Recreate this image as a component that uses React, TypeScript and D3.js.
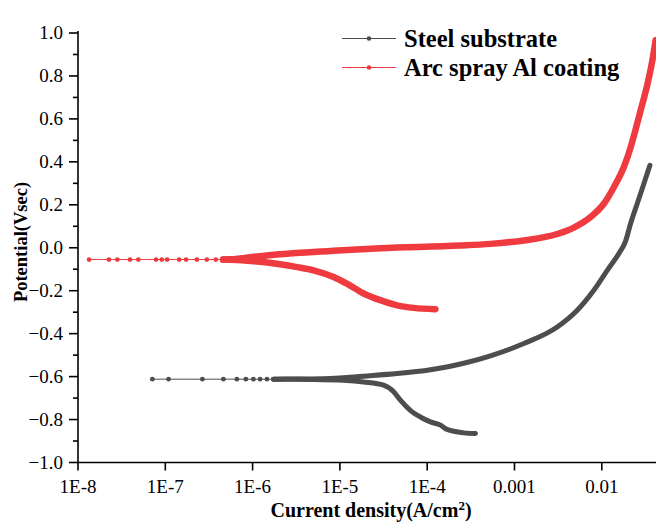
import React from 'react';
import * as d3 from 'd3';

// potentiodynamic polarization curves, current density (A/cm2) vs potential (V)
const seriesNames = ['Steel substrate', 'Arc spray Al coating'];
const seriesColors = ['#4d4d4d', '#ef3b3f'];

// steel substrate
const steelSparseI = [7.11e-8, 1.09e-7, 2.66e-7, 4.63e-7, 6.61e-7, 8.37e-7, 1.02e-6, 1.22e-6, 1.46e-6, 1.74e-6];
const steelSparseE = [-0.612, -0.612, -0.612, -0.612, -0.612, -0.612, -0.612, -0.612, -0.612, -0.612];
const steelAnodicI = [1.74e-6, 4e-6, 7.77e-6, 1.87e-5, 4.52e-5, 1.09e-4, 2.62e-4, 5.31e-4, 1.28e-3, 3.09e-3, 5.24e-3, 8.11e-3, 1.156e-2, 1.57e-2, 1.87e-2, 2.14e-2, 2.55e-2, 3.04e-2, 3.56e-2];
const steelAnodicE = [-0.612, -0.611, -0.609, -0.598, -0.586, -0.568, -0.538, -0.503, -0.446, -0.369, -0.291, -0.198, -0.105, -0.027, 0.03, 0.113, 0.206, 0.299, 0.384];
const steelCathodicI = [1.74e-6, 5e-6, 1.1e-5, 1.87e-5, 3.17e-5, 4.13e-5, 4.93e-5, 6.41e-5, 8.35e-5, 1.09e-4, 1.42e-4, 1.69e-4, 2.62e-4, 3.57e-4];
const steelCathodicE = [-0.612, -0.613, -0.617, -0.625, -0.64, -0.671, -0.71, -0.757, -0.788, -0.811, -0.826, -0.846, -0.862, -0.865];

// arc spray Al coating
const alSparseI = [1.34e-8, 2.26e-8, 2.82e-8, 3.94e-8, 4.91e-8, 7.83e-8, 9.1e-8, 1.05e-7, 1.44e-7, 1.73e-7, 2.3e-7, 2.99e-7, 3.79e-7, 4.6e-7];
const alSparseE = [-0.055, -0.055, -0.055, -0.055, -0.055, -0.055, -0.055, -0.055, -0.055, -0.055, -0.055, -0.055, -0.055, -0.055];
const alAnodicI = [4.6e-7, 5.5e-7, 1e-6, 2.07e-6, 7.77e-6, 2.9e-5, 2.4e-4, 5.31e-4, 1.28e-3, 3.09e-3, 4.79e-3, 7.45e-3, 1.06e-2, 1.38e-2, 1.79e-2, 2.15e-2, 2.4e-2, 2.79e-2, 3.33e-2, 3.79e-2, 4.14e-2];
const alAnodicE = [-0.055, -0.054, -0.043, -0.03, -0.015, -0.002, 0.01, 0.018, 0.034, 0.064, 0.094, 0.143, 0.206, 0.283, 0.376, 0.47, 0.54, 0.64, 0.76, 0.87, 0.966];
const alCathodicI = [4.6e-7, 8.6e-7, 1.39e-6, 2.07e-6, 3.24e-6, 4.99e-6, 8.47e-6, 1.2e-5, 1.87e-5, 2.9e-5, 4.52e-5, 7e-5, 1.24e-4];
const alCathodicE = [-0.055, -0.06, -0.068, -0.077, -0.09, -0.105, -0.136, -0.167, -0.213, -0.244, -0.268, -0.28, -0.286];

const xTickValues = [1e-8, 1e-7, 1e-6, 1e-5, 1e-4, 1e-3, 1e-2];
const xTickLabels = ['1E-8', '1E-7', '1E-6', '1E-5', '1E-4', '0.001', '0.01'];
const yTickValues = [-1.0, -0.8, -0.6, -0.4, -0.2, 0.0, 0.2, 0.4, 0.6, 0.8, 1.0];

const W = 656;
const H = 525;
const left = 78;
const right = 656;
const top = 33;
const bottom = 462.5;

const zip = (xs: number[], ys: number[]) => xs.map((x, i) => [x, ys[i]] as [number, number]);

const App = () => {
  const x = d3.scaleLog().domain([1e-8, 0.0418]).range([left, right]);
  const y = d3.scaleLinear().domain([-1, 1]).range([bottom, top]);
  const straight = d3
    .line<[number, number]>()
    .x(d => x(d[0]))
    .y(d => y(d[1]));
  const smooth = d3
    .line<[number, number]>()
    .x(d => x(d[0]))
    .y(d => y(d[1]))
    .curve(d3.curveMonotoneX);

  const series = [
    {
      sparse: zip(steelSparseI, steelSparseE),
      dense: [zip(steelAnodicI, steelAnodicE), zip(steelCathodicI, steelCathodicE)],
      width: 5
    },
    {
      sparse: zip(alSparseI, alSparseE),
      dense: [zip(alAnodicI, alAnodicE), zip(alCathodicI, alCathodicE)],
      width: 6.5
    }
  ];

  const minorTicks = d3.range(-0.9, 1.0, 0.2);
  const serif = '"Liberation Serif", "Times New Roman", serif';

  return (
    <svg width={W} height={H} style={{ position: 'absolute', left: 0, top: 0, background: '#fff' }}>
      {series.map((s, i) => (
        <g key={i}>
          <path d={straight(s.sparse) || ''} fill="none" stroke={seriesColors[i]} strokeWidth={1} />
          {s.sparse.map((d, j) => (
            <circle key={j} cx={x(d[0])} cy={y(d[1])} r={2.4} fill={seriesColors[i]} />
          ))}
          {s.dense.map((seg, j) => (
            <path
              key={'d' + j}
              d={smooth(seg) || ''}
              fill="none"
              stroke={seriesColors[i]}
              strokeWidth={s.width}
              strokeLinecap="round"
              strokeLinejoin="round"
            />
          ))}
        </g>
      ))}

      {/* axes */}
      <g stroke="#000" strokeWidth={1.6}>
        <line x1={left} x2={right} y1={bottom} y2={bottom} />
        <line x1={left} x2={left} y1={top - 2} y2={bottom} />
        {xTickValues.map(v => (
          <line key={v} x1={x(v)} x2={x(v)} y1={bottom} y2={bottom + 8} />
        ))}
        {yTickValues.map(v => (
          <line key={v} x1={left - 9} x2={left} y1={y(v)} y2={y(v)} />
        ))}
        {minorTicks.map(v => (
          <line key={'m' + v} x1={left - 5} x2={left} y1={y(v)} y2={y(v)} />
        ))}
      </g>
      <g fontFamily={serif} fontSize={19} fill="#000">
        {xTickValues.map((v, i) => (
          <text key={v} x={x(v)} y={bottom + 30} textAnchor="middle">
            {xTickLabels[i]}
          </text>
        ))}
        {yTickValues.map(v => (
          <text key={v} x={left - 15} y={y(v) + 6} textAnchor="end">
            {d3.format('.1f')(v)}
          </text>
        ))}
      </g>
      <text
        x={(left + right) / 2 + 4}
        y={517}
        textAnchor="middle"
        fontFamily={serif}
        fontWeight="bold"
        fontSize={20}
      >
        Current density(A/cm<tspan dy={-7} fontSize={13}>2</tspan>
        <tspan dy={7}>)</tspan>
      </text>
      <text
        transform={`translate(27, 242) rotate(-90)`}
        textAnchor="middle"
        fontFamily={serif}
        fontWeight="bold"
        fontSize={18.5}
      >
        Potential(Vsec)
      </text>

      {/* legend */}
      {seriesNames.map((name, i) => (
        <g key={name} transform={`translate(342, ${38.5 + i * 29})`}>
          <line x1={0} x2={54} y1={0} y2={0} stroke={seriesColors[i]} strokeWidth={1} />
          <circle cx={27} cy={0} r={2.3} fill={seriesColors[i]} />
          <text x={62} y={8} fontFamily={serif} fontWeight="bold" fontSize={24.5}>
            {name}
          </text>
        </g>
      ))}
    </svg>
  );
};

export default App;
